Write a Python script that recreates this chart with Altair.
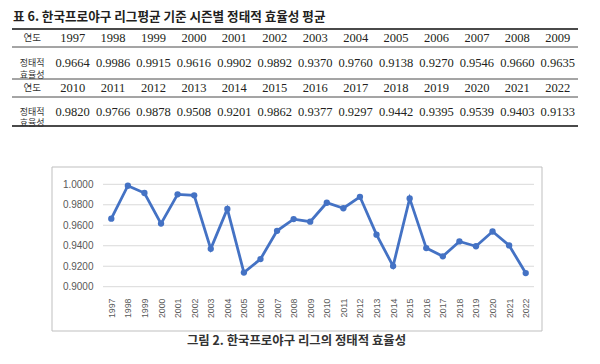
import altair as alt
import pandas as pd

# ---------------- data ----------------
years = [1997, 1998, 1999, 2000, 2001, 2002, 2003, 2004, 2005, 2006, 2007, 2008, 2009,
         2010, 2011, 2012, 2013, 2014, 2015, 2016, 2017, 2018, 2019, 2020, 2021, 2022]
efficiency = [0.9664, 0.9986, 0.9915, 0.9616, 0.9902, 0.9892, 0.9370, 0.9760, 0.9138,
              0.9270, 0.9546, 0.9660, 0.9635,
              0.9820, 0.9766, 0.9878, 0.9508, 0.9201, 0.9862, 0.9377, 0.9297, 0.9442,
              0.9395, 0.9539, 0.9403, 0.9133]
y_ticks = [0.90, 0.92, 0.94, 0.96, 0.98, 1.00]

table_title = "표 6. 한국프로야구 리그평균 기준 시즌별 정태적 효율성 평균"
caption = "그림 2. 한국프로야구 리그의 정태적 효율성"
label_year = "연도"
label_eff = "정태적\n효율성"

# ---------------- table layout ----------------
cols_per_block = 13
row_heights = [18, 32, 18, 29]
bounds = [0]
for h in row_heights:
    bounds.append(bounds[-1] + h)
centers = [(bounds[i] + bounds[i + 1]) / 2 for i in range(len(row_heights))]

num_rows, kor_rows = [], []
for b in range(2):
    ys = years[b * cols_per_block:(b + 1) * cols_per_block]
    vs = efficiency[b * cols_per_block:(b + 1) * cols_per_block]
    hr, vr = centers[2 * b], centers[2 * b + 1]
    kor_rows.append({"xc": 0.5, "yc": hr, "t": label_year, "fs": 9.5})
    kor_rows.append({"xc": 0.5, "yc": vr, "t": label_eff, "fs": 9})
    for i, (yr, v) in enumerate(zip(ys, vs)):
        num_rows.append({"xc": i + 1.5, "yc": hr, "t": str(yr)})
        num_rows.append({"xc": i + 1.5, "yc": vr, "t": f"{v:.4f}"})

rule_rows = [{"yc": y, "x0": 0, "x1": cols_per_block + 1,
              "w": 2 if k in (0, len(bounds) - 1) else 1}
             for k, y in enumerate(bounds)]

tx = dict(scale=alt.Scale(domain=[0, cols_per_block + 1], range=[4, 570], zero=False, nice=False), axis=None)
ty = dict(scale=alt.Scale(domain=[0, bounds[-1]], range=[21, 118], zero=False, nice=False), axis=None)

tbl_nums = alt.Chart(pd.DataFrame(num_rows)).mark_text(
    font="Liberation Serif", fontSize=12.5, color="#231f20", baseline="middle"
).encode(x=alt.X("xc:Q", **tx), y=alt.Y("yc:Q", **ty), text="t:N")

tbl_kor = alt.Chart(pd.DataFrame(kor_rows)).mark_text(
    font="Noto Sans CJK KR", color="#333333", baseline="middle",
    lineBreak="\n", lineHeight=11.5
).encode(x=alt.X("xc:Q", **tx), y=alt.Y("yc:Q", **ty), text="t:N",
         size=alt.Size("fs:Q", scale=None, legend=None))

tbl_rules = alt.Chart(pd.DataFrame(rule_rows)).mark_rule(color="#4a4a4a").encode(
    x=alt.X("x0:Q", **tx), x2="x1:Q", y=alt.Y("yc:Q", **ty),
    strokeWidth=alt.StrokeWidth("w:Q", scale=None, legend=None))

table_layer = alt.layer(tbl_rules, tbl_nums, tbl_kor)

# ---------------- line chart ----------------
df = pd.DataFrame({"year": [str(y) for y in years], "eff": efficiency})
grid_df = pd.DataFrame({"t": y_ticks})

y_scale = alt.Scale(domain=[0.9, 1.0], range=[278.7, 176.3], zero=False, nice=False)
y_axis = alt.Axis(orient="left", title=None, values=y_ticks, format=".4f",
                  domain=False, ticks=False, tickSize=0, labelPadding=0,
                  offset=-85, grid=False, labelFont="Liberation Sans",
                  labelFontSize=10, labelColor="#595959")

lx = alt.X("year:O", scale=alt.Scale(range=[95, 526]),
           axis=alt.Axis(orient="bottom", title=None, labelAngle=-90, domain=False,
                         ticks=False, tickSize=0, labelPadding=0, offset=-58, grid=False,
                         labelFont="Liberation Sans", labelFontSize=8.8,
                         labelColor="#595959"))
ly = alt.Y("eff:Q", scale=y_scale, axis=y_axis)

grid = alt.Chart(grid_df).mark_rule(color="#d9d9d9", strokeWidth=1).encode(
    y=alt.Y("t:Q", scale=y_scale, axis=y_axis), x=alt.value(95), x2=alt.value(526))

line = alt.Chart(df).mark_line(
    color="#4472C4", strokeWidth=2.8,
    point=alt.OverlayMarkDef(filled=True, size=40, color="#4472C4", opacity=1)
).encode(x=lx, y=ly)

line_layer = alt.layer(grid, line)

# ---------------- frame & texts ----------------
one = pd.DataFrame({"a": [0]})
box = alt.Chart(one).mark_rect(filled=False, stroke="#bfbfbf", strokeWidth=1).encode(
    x=alt.value(44), x2=alt.value(534), y=alt.value(159), y2=alt.value(323))

title_txt = alt.Chart(pd.DataFrame({"t": [table_title]})).mark_text(
    font="Noto Sans CJK KR", fontSize=12.6, fontWeight="bold", color="#231f20",
    align="left", baseline="middle"
).encode(text="t:N", x=alt.value(5), y=alt.value(9))

caption_txt = alt.Chart(pd.DataFrame({"t": [caption]})).mark_text(
    font="Noto Sans CJK KR", fontSize=12.4, fontWeight="bold", color="#333333",
    align="center", baseline="middle"
).encode(text="t:N", x=alt.value(288.5), y=alt.value(333))

chart = alt.layer(box, table_layer, line_layer, title_txt, caption_txt).resolve_scale(
    x="independent", y="independent"
).properties(width=584, height=348, padding=0).configure_view(stroke=None)

chart.save("out.html", embed_options={"renderer": "svg", "actions": False})
